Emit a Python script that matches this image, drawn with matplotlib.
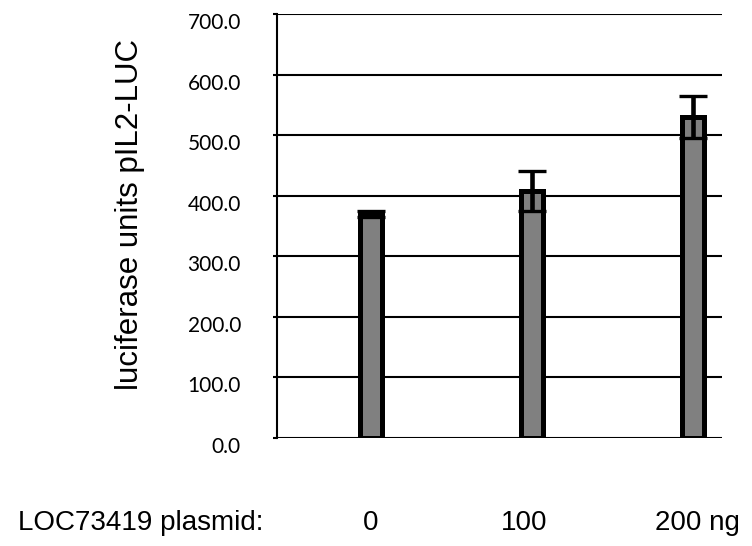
import numpy as np
import matplotlib.pyplot as plt
from matplotlib.transforms import ScaledTranslation, blended_transform_factory

# データ---------------------------------------------------------------
doses = ['0', '100', '200 ng']
luc_mean = [370.0, 408.0, 530.0]
luc_err = [5.0, 33.0, 35.0]
y_ticks = [0, 100, 200, 300, 400, 500, 600, 700]

# グラフ出力------------------------------------------------------------
fig = plt.figure(figsize=(7.52, 5.46), dpi=100)
ax = fig.add_axes([0.3684, 0.1978, 0.5917, 0.7766])

x = np.arange(len(doses))
ax.bar(x, luc_mean, width=0.137, color='#808080', edgecolor='black',
       linewidth=3.6, zorder=3)
ax.errorbar(x, luc_mean, yerr=luc_err, fmt='none', ecolor='black',
            elinewidth=3.3, capsize=10, capthick=2.4, zorder=4)

ax.set_xlim(-0.584, 2.18)
ax.set_ylim(0, 700)
ax.set_yticks(y_ticks)
ax.set_yticklabels(['%.1f' % v for v in y_ticks], family='Lato', fontsize=15)
ax.tick_params(axis='y', length=3, width=1.5, pad=23, color='black')
ax.set_xticks([])

# 目盛ラベルを少し下へずらす
for lab in ax.get_yticklabels():
    lab.set_transform(lab.get_transform() + ScaledTranslation(0, -7 / 100, fig.dpi_scale_trans))

ax.yaxis.grid(True, color='black', linewidth=1.5, zorder=0)
ax.set_axisbelow(True)
for s in ['top', 'right', 'bottom']:
    ax.spines[s].set_visible(False)
ax.spines['left'].set_linewidth(1.5)

fig.text(130 / 752, 1 - 215 / 546, 'luciferase units pIL2-LUC', rotation=90,
         ha='center', va='center', family='Liberation Sans', fontsize=22.5)

# 横軸ラベル
trans = blended_transform_factory(ax.transData, fig.transFigure)
fig.text(18 / 752, 1 - 523 / 546, 'LOC73419 plasmid:', ha='left', va='center',
         family='Liberation Sans', fontsize=20)
label_shift = [0.0, -0.05, 0.03]
for i, d in enumerate(doses):
    ax.text(i + label_shift[i], 1 - 523 / 546, d, transform=trans, ha='center',
            va='center', family='Liberation Sans', fontsize=20)

plt.savefig('out.png', dpi=100)
